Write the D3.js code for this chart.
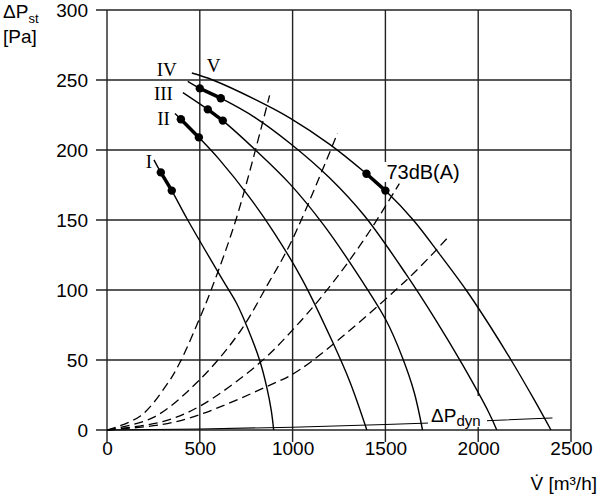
<!DOCTYPE html>
<html>
<head>
<meta charset="utf-8">
<script src="https://cdn.jsdelivr.net/npm/d3@7"></script>
<style>
  body { margin: 0; background: #fff; }
  svg text { font-family: "Liberation Sans", Arial, sans-serif; fill: #000; }
  .roman { font-family: "Liberation Serif", "Times New Roman", serif; }
</style>
</head>
<body>
<svg width="600" height="500"></svg>
<script>
// axis ticks
var xTicks = [0, 500, 1000, 1500, 2000, 2500];
var yTicks = [0, 50, 100, 150, 200, 250, 300];

// fan curves I..V  [flow m3/h, static pressure Pa]
var fanI   = [[253,193],[290,184],[349,171],[435,150],[624,107],[700,90],[760,72],[822,50],[860,31],[885,14],[898,0]];
var fanII  = [[366,226],[398,222],[495,209],[600,194],[769,166],[900,141],[1050,108],[1215,63],[1310,34],[1400,0]];
var fanIII = [[409,241],[543,229],[624,221],[800,200],[984,176],[1170,146],[1371,107],[1505,78],[1591,52],[1655,27],[1700,0]];
var fanIV  = [[435,249],[500,244],[613,237],[800,223],[984,205],[1200,180],[1387,153],[1613,111],[1774,78],[1914,47],[2059,12],[2100,0]];
var fanV   = [[457,255],[570,250],[800,236],[984,223],[1200,204],[1398,183],[1500,171],[1650,150],[1790,126],[1935,100],[2060,75],[2177,50],[2300,22],[2392,0]];
var fanNames = ["I", "II", "III", "IV", "V"];

// operating range dots on each curve
var opLow  = [[290,184],[398,222],[543,229],[500,244],[1398,183]];
var opHigh = [[349,171],[495,209],[624,221],[613,237],[1500,171]];

// system curves (dashed)
var sys1 = [[0,0],[180,10],[320,32],[392,48],[500,80],[564,101],[699,152],[876,239]];
var sys2 = [[0,0],[250,9],[500,36],[715,70],[866,104],[995,135],[1242,212]];
var sys3 = [[0,0],[300,6],[500,17],[823,48],[1038,77],[1215,105],[1400,139],[1575,176]];
var sys4 = [[0,0],[300,4],[500,11],[860,31],[1038,43],[1613,107],[1833,137]];

// dynamic pressure
var dyn = [[0,0],[500,0.7],[1000,2],[1500,3.9],[1740,5],[2040,6.6],[2400,8.6]];

var svg = d3.select("svg");
var x = d3.scaleLinear().domain([0, 2500]).range([107, 571]);
var y = d3.scaleLinear().domain([0, 300]).range([430, 10]);

var gridColor = "#222";

// grid lines, extended past the axes like ticks
svg.append("g").selectAll("line")
    .data(yTicks)
    .enter()
    .append("line")
        .attr("x1", 96).attr("x2", x(2500))
        .attr("y1", d => y(d)).attr("y2", d => y(d))
        .attr("stroke", gridColor).attr("stroke-width", 1.4);

svg.append("g").selectAll("line")
    .data(xTicks)
    .enter()
    .append("line")
        .attr("x1", d => x(d)).attr("x2", d => x(d))
        .attr("y1", y(300)).attr("y2", 442)
        .attr("stroke", gridColor).attr("stroke-width", 1.4);

// axis labels through d3 axes
var xAxis = svg.append("g")
    .attr("transform", "translate(0," + y(0) + ")")
    .call(d3.axisBottom(x).tickValues(xTicks).tickSize(0).tickPadding(10.5).tickFormat(d3.format("d")));
var yAxis = svg.append("g")
    .attr("transform", "translate(" + x(0) + ",0)")
    .call(d3.axisLeft(y).tickValues(yTicks).tickSize(0).tickPadding(19).tickFormat(d3.format("d")));
[xAxis, yAxis].forEach(function(g){
    g.select(".domain").remove();
    g.selectAll("text").style("font-size", "19px").style("font-family", '"Liberation Sans", Arial, sans-serif').attr("fill", "#000");
});
xAxis.selectAll("text").attr("dy", "0.71em").attr("y", 12);

var line = d3.line()
    .x(d => x(d[0]))
    .y(d => y(d[1]))
    .curve(d3.curveCatmullRom.alpha(0.5));

// dynamic pressure line
svg.append("path")
    .attr("d", d3.line().x(d => x(d[0])).y(d => y(d[1])).curve(d3.curveMonotoneX)(dyn))
    .attr("fill", "none").attr("stroke", "#000").attr("stroke-width", 1.1);

// white boxes behind annotations
svg.append("rect").attr("x", 428).attr("y", 396).attr("width", 59).attr("height", 31).attr("fill", "#fff");
svg.append("rect").attr("x", 383).attr("y", 162).attr("width", 80).attr("height", 20).attr("fill", "#fff");

// system curves
[sys1, sys2, sys3, sys4].forEach(function(s){
    svg.append("path")
        .attr("d", line(s))
        .attr("fill", "none")
        .attr("stroke", "#000")
        .attr("stroke-width", 1.3)
        .attr("stroke-dasharray", "9,5");
});

// fan curves
var fans = [fanI, fanII, fanIII, fanIV, fanV];
fans.forEach(function(f){
    svg.append("path")
        .attr("d", line(f))
        .attr("fill", "none")
        .attr("stroke", "#000")
        .attr("stroke-width", 1.4);
});

// operating segments
svg.append("g").selectAll("line")
    .data(d3.range(opLow.length))
    .enter()
    .append("line")
        .attr("x1", i => x(opLow[i][0])).attr("y1", i => y(opLow[i][1]))
        .attr("x2", i => x(opHigh[i][0])).attr("y2", i => y(opHigh[i][1]))
        .attr("stroke", "#000").attr("stroke-width", 3.5);

svg.append("g").selectAll("circle")
    .data(opLow.concat(opHigh))
    .enter()
    .append("circle")
        .attr("cx", d => x(d[0]))
        .attr("cy", d => y(d[1]))
        .attr("r", 4.2)
        .attr("fill", "#000");

// roman numeral labels next to each curve start
var labelOffsets = [[-2, 8, "end"], [-5, 11, "end"], [-10, 7, "end"], [-11, -5, "end"], [15, -1, "start"]];
svg.append("g").selectAll("text")
    .data(fanNames)
    .enter()
    .append("text")
        .attr("class", "roman")
        .attr("x", (d, i) => x(fans[i][0][0]) + labelOffsets[i][0])
        .attr("y", (d, i) => y(fans[i][0][1]) + labelOffsets[i][1])
        .attr("text-anchor", (d, i) => labelOffsets[i][2])
        .style("font-size", "19px")
        .text(d => d);

// 73dB(A)
svg.append("text")
    .attr("x", x(opHigh[4][0]) + 1)
    .attr("y", y(opHigh[4][1]) - 12)
    .style("font-size", "20px")
    .text("73dB(A)");

// ΔPdyn
var dynLabel = svg.append("text").attr("x", 431).attr("y", 422).style("font-size", "19px");
dynLabel.append("tspan").text("ΔP");
dynLabel.append("tspan").attr("dy", 4).style("font-size", "15px").text("dyn");

// axis titles
var yTitle = svg.append("text").attr("x", 3).attr("y", 18).style("font-size", "19px");
yTitle.append("tspan").text("ΔP");
yTitle.append("tspan").attr("dy", 5).style("font-size", "13px").text("st");
svg.append("text").attr("x", 3).attr("y", 43).style("font-size", "19px").text("[Pa]");

svg.append("text")
    .attr("x", 597).attr("y", 490)
    .attr("text-anchor", "end")
    .style("font-size", "19px")
    .text("V\u0307 [m³/h]");
</script>
</body>
</html>
